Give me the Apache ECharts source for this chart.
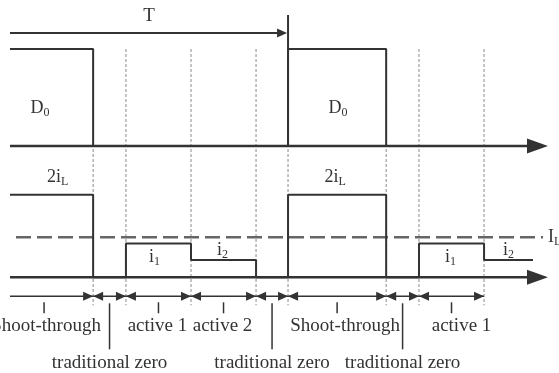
<!DOCTYPE html>
<html>
<head>
<meta charset="utf-8">
<script src="https://cdn.jsdelivr.net/npm/echarts@6/dist/echarts.min.js"></script>
<style>
html, body { margin: 0; padding: 0; background: #fff; }
#chart { width: 559px; height: 373px; }
</style>
</head>
<body>
<div id="chart"></div>
<script>
// ---- timing data, switching period T = 100 time units ----
const periodT = 100;
const timeMax = 193.5;
// switching intervals; the first shoot-through began before the drawn window
const intervalStart = [-5.4, 29.9, 41.7, 65.1, 88.5, 100, 135.3, 147.1];
const intervalEnd   = [29.9, 41.7, 65.1, 88.5, 100, 135.3, 147.1, 170.5];
const intervalName  = ['Shoot-through', 'traditional zero', 'active 1', 'active 2',
                       'traditional zero', 'Shoot-through', 'traditional zero', 'active 1'];
// D0 gate signal: [time of change, level after it]
const d0Changes = [[0, 1], [29.9, 0], [100, 1], [135.3, 0]];
// current waveform in units of iL: 2iL while shooting through, i1 / i2 in the active states
const iChanges = [[0, 2], [29.9, 0], [41.7, 0.82], [65.1, 0.42], [88.5, 0],
                  [100, 2], [135.3, 0], [147.1, 0.82], [170.5, 0.42]];
const iTraceEnd = 188.1;
const levelName = { '2': ['2i', 'L'], '0.82': ['i', '1'], '0.42': ['i', '2'] };
const avgLevel = 0.97;   // I_L
const avgEnd = 191.7;

// ---- layout (pixels) ----
const L = { left: 10, right: 11, top: { top: 49, height: 97 }, low: { top: 194.7, height: 82.6 } };
const INK = '#333333', TEXT = '#333333', GUIDE = '#8a8a8a';
const FONT = "'Liberation Serif','Times New Roman',serif";
const FS = 19;
// horizontal nudges of the interval names, px
const nameDx = [2, 0, -1, -1, 0, 8, 0, 10];
// horizontal nudges of the D0 names, px
const d0Dx = [-4, 1];
// horizontal nudges of the level names per occurrence, px
const levelDx = { '2': [6, -2], '0.82': [-4, -1], '0.42': [-1, 0] };

function stepPoints(changes, tEnd) {
  const pts = [];
  changes.forEach(([t, v], k) => {
    if (k > 0) pts.push([t, changes[k - 1][1]]);
    pts.push([t, v]);
  });
  if (tEnd != null) pts.push([tEnd, changes[changes.length - 1][1]]);
  return pts;
}
function seg(x1, y1, x2, y2, w, color, dash) {
  return { type: 'line', shape: { x1, y1, x2, y2 },
           style: { stroke: color || INK, lineWidth: w, lineDash: dash || null } };
}
function head(tx, ty, dir, len, half) {
  return { type: 'polygon',
           shape: { points: [[tx, ty], [tx - dir * len, ty - half], [tx - dir * len, ty + half]] },
           style: { fill: INK } };
}
function label(x, y, text, align) {
  return { type: 'text', x, y,
           style: { text, fill: TEXT, fontSize: FS, fontFamily: FONT,
                    align: align || 'center', verticalAlign: 'middle' } };
}
function subLabel(x, y, main, sub, align) {
  return { type: 'text', x, y,
           style: { text: '{m|' + main + '}{s|' + sub + '}', align: align || 'center', verticalAlign: 'middle',
                    rich: { m: { fontSize: 18, fontFamily: FONT, fill: TEXT, lineHeight: 21 },
                            s: { fontSize: 12, fontFamily: FONT, fill: TEXT, lineHeight: 12, verticalAlign: 'bottom' } } } };
}
function timeAxis(api, y) {
  const x0 = api.coord([0, 0])[0], xe = api.coord([timeMax, 0])[0];
  return [seg(x0, y, xe - 19, y, 2.5), head(xe, y, 1, 21, 7.5)];
}

// upper panel: D0 axis, guide lines, period marker
function drawTop(api) {
  const X = t => api.coord([t, 0])[0];
  const y0 = api.coord([0, 0])[1], y1 = api.coord([0, 1])[1];
  const lowAxis = L.low.top + L.low.height;
  const out = [];
  intervalEnd.forEach(t => out.push(seg(X(t), y1, X(t), lowAxis + 28, 1, GUIDE, [3, 2])));
  out.push(...timeAxis(api, y0));
  // period marker and T dimension
  out.push(seg(X(periodT), y1 - 34, X(periodT), y0, 2));
  out.push(seg(X(0), y1 - 16, X(periodT) - 9, y1 - 16, 2));
  out.push(head(X(periodT) - 1, y1 - 16, 1, 10, 4.5));
  out.push(label(X(periodT / 2), y1 - 33, 'T'));
  // D0 names centred on each shoot-through pulse
  let n0 = 0;
  intervalName.forEach((n, k) => {
    if (n !== 'Shoot-through') return;
    const mid = (intervalStart[k] + intervalEnd[k]) / 2;
    out.push(subLabel(X(mid) + d0Dx[n0++], api.coord([0, 0.39])[1], 'D', '0'));
  });
  return out;
}

// lower panel: current axis, interval arrows and names, level names
function drawLow(api) {
  const X = t => api.coord([t, 0])[0];
  const Y = v => api.coord([0, v])[1];
  const y0 = Y(0);
  const yA = y0 + 19;
  const out = [];
  out.push(...timeAxis(api, y0));
  intervalName.forEach((n, k) => {
    const a = Math.max(intervalStart[k], 0), b = intervalEnd[k];
    const xa = X(a), xb = X(b);
    out.push(seg(xa, yA, xb, yA, 1.5));
    out.push(head(xb, yA, 1, 10, 4.5));
    if (intervalStart[k] >= 0) out.push(head(xa, yA, -1, 10, 4.5));
    const xm = X((intervalStart[k] + intervalEnd[k]) / 2);
    if (n === 'traditional zero') {
      out.push(seg(xm, yA + 7, xm, yA + 53, 1.5));
      out.push(label(xm + nameDx[k], yA + 67, n));
    } else {
      out.push(seg(xm, yA + 6, xm, yA + 17, 1.5));
      out.push(label(xm + nameDx[k], yA + 30, n));
    }
  });
  // level names above / below each flat part of the current trace
  const pts = iChanges.concat([[iTraceEnd, null]]);
  const seen = {};
  for (let k = 0; k < iChanges.length; k++) {
    const v = iChanges[k][1];
    const nm = levelName[String(v)];
    if (!nm) continue;
    const idx = seen[v] = (seen[v] == null ? 0 : seen[v] + 1);
    const xm = X((pts[k][0] + pts[k + 1][0]) / 2) + levelDx[String(v)][idx];
    const dy = v === 2 ? -17.5 : v === 0.82 ? 14 : -10;
    out.push(subLabel(xm, Y(v) + dy, nm[0], nm[1]));
  }
  out.push(subLabel(X(avgEnd) + 5, Y(avgLevel), 'I', 'L', 'left'));
  return out;
}

const chart = echarts.init(document.getElementById('chart'), null, { renderer: 'canvas' });
chart.setOption({
  animation: false,
  backgroundColor: '#fff',
  grid: [
    { left: L.left, right: L.right, top: L.top.top, height: L.top.height },
    { left: L.left, right: L.right, top: L.low.top, height: L.low.height }
  ],
  xAxis: [
    { gridIndex: 0, type: 'value', min: 0, max: timeMax, show: false },
    { gridIndex: 1, type: 'value', min: 0, max: timeMax, show: false }
  ],
  yAxis: [
    { gridIndex: 0, type: 'value', min: 0, max: 1, show: false },
    { gridIndex: 1, type: 'value', min: 0, max: 2, show: false }
  ],
  series: [
    { type: 'custom', xAxisIndex: 0, yAxisIndex: 0, silent: true, clip: false, data: [[0, 0]],
      renderItem: (p, api) => ({ type: 'group', children: drawTop(api) }) },
    { type: 'custom', xAxisIndex: 1, yAxisIndex: 1, silent: true, clip: false, data: [[0, 0]],
      renderItem: (p, api) => ({ type: 'group', children: drawLow(api) }) },
    { type: 'line', xAxisIndex: 1, yAxisIndex: 1, data: [[0, avgLevel], [avgEnd, avgLevel]],
      symbol: 'none', clip: false, silent: true,
      lineStyle: { color: '#666666', width: 2.5, type: [15, 6], dashOffset: 15 } },
    { type: 'line', xAxisIndex: 0, yAxisIndex: 0, data: stepPoints(d0Changes),
      symbol: 'none', clip: false, silent: true, lineStyle: { color: INK, width: 2 } },
    { type: 'line', xAxisIndex: 1, yAxisIndex: 1, data: stepPoints(iChanges, iTraceEnd),
      symbol: 'none', clip: false, silent: true, lineStyle: { color: INK, width: 2 } }
  ]
});
</script>
</body>
</html>
